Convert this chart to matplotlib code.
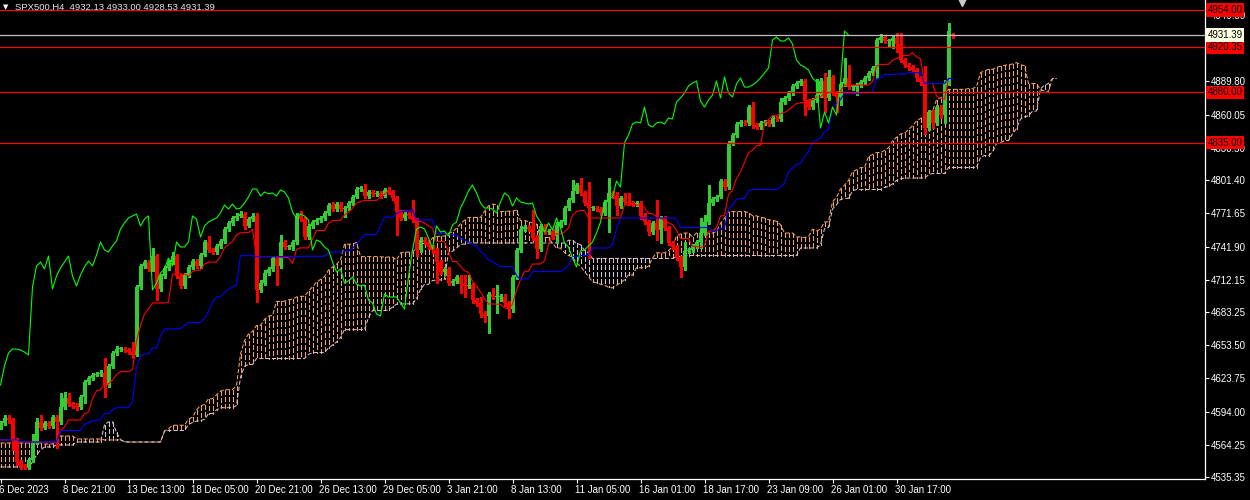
import numpy as np
import pandas as pd
import matplotlib
matplotlib.use('Agg')
import matplotlib.pyplot as plt

# SPX500 H4 bars, 6 Dec 2023 05:00 .. 1 Feb 2024
opens = [
    4580.2, 4583.8, 4588.3, 4586.5, 4568.6, 4548.8, 4545.3, 4544.4, 4550.6, 4566.8,
    4584.7, 4579.3, 4583.8, 4581.1, 4589.2, 4584.7, 4598.1, 4606.2, 4600.8, 4599.0,
    4598.1, 4607.1, 4620.5, 4624.1, 4626.8, 4627.7, 4628.6, 4617.8, 4634.9, 4646.5,
    4650.1, 4650.1, 4649.2, 4647.4, 4644.7, 4705.6, 4724.5, 4728.0, 4721.8, 4733.4,
    4703.9, 4715.5, 4722.7, 4728.0, 4733.4, 4715.5, 4706.5, 4716.4, 4723.6, 4728.9,
    4724.5, 4734.3, 4746.0, 4738.8, 4737.0, 4742.4, 4746.9, 4757.6, 4763.0, 4767.5,
    4769.3, 4771.1, 4760.3, 4766.6, 4769.3, 4703.0, 4709.2, 4718.2, 4721.8, 4731.6,
    4724.5, 4746.0, 4741.5, 4741.5, 4746.0, 4769.3, 4766.6, 4750.4, 4760.3, 4763.9,
    4765.7, 4767.5, 4772.0, 4779.1, 4775.5, 4780.0, 4775.5, 4776.4, 4780.9, 4786.3,
    4793.5, 4793.5, 4787.2, 4790.8, 4789.0, 4789.9, 4787.2, 4792.6, 4790.8, 4785.4,
    4772.8, 4767.5, 4771.1, 4769.3, 4765.7, 4738.8, 4747.8, 4746.0, 4741.5, 4738.8,
    4728.0, 4719.1, 4721.8, 4709.2, 4711.0, 4714.6, 4708.3, 4706.5, 4707.4, 4694.0,
    4691.3, 4681.5, 4679.7, 4699.4, 4696.7, 4696.7, 4696.7, 4691.3, 4685.9, 4714.6,
    4738.8, 4757.6, 4759.4, 4757.6, 4749.6, 4739.7, 4760.3, 4754.9, 4755.8, 4751.3,
    4761.2, 4763.9, 4776.4, 4783.6, 4791.7, 4797.0, 4789.9, 4780.9, 4776.4, 4776.4,
    4775.5, 4772.0, 4781.8, 4789.9, 4787.2, 4778.2, 4785.4, 4781.8, 4780.9, 4780.0,
    4780.9, 4769.3, 4763.9, 4754.9, 4763.0, 4756.7, 4767.5, 4758.5, 4745.1, 4741.5,
    4731.6, 4723.6, 4737.9, 4738.8, 4742.4, 4746.0, 4754.0, 4763.9, 4780.9, 4784.5,
    4786.3, 4800.6, 4795.2, 4834.7, 4841.8, 4851.7, 4853.5, 4852.6, 4866.9, 4850.8,
    4849.0, 4852.6, 4853.5, 4851.7, 4857.1, 4856.2, 4871.4, 4875.0, 4879.5, 4885.7,
    4888.4, 4890.2, 4872.3, 4866.9, 4873.2, 4877.7, 4890.2, 4875.0, 4893.8, 4879.5,
    4875.9, 4887.5, 4892.9, 4884.8, 4884.8, 4886.6, 4889.3, 4892.9, 4897.4, 4901.9,
    4927.0, 4929.6, 4926.1, 4926.1, 4928.8, 4923.4, 4909.0, 4904.6, 4902.8, 4900.1,
    4892.9, 4889.3, 4848.1, 4862.4, 4852.6, 4866.9, 4859.8, 4888.4, 4932.13]

highs = [
    4586.0, 4591.0, 4590.5, 4588.3, 4570.0, 4550.5, 4547.0, 4552.5, 4573.9, 4588.3,
    4591.0, 4585.5, 4585.5, 4591.0, 4591.0, 4610.7, 4611.6, 4610.7, 4602.5, 4601.5,
    4609.0, 4622.5, 4626.0, 4628.5, 4629.5, 4631.5, 4642.0, 4637.0, 4648.5, 4652.5,
    4652.0, 4652.0, 4651.0, 4656.4, 4707.0, 4726.5, 4730.0, 4730.0, 4740.6, 4735.0,
    4717.5, 4724.5, 4730.0, 4737.0, 4735.5, 4717.5, 4718.5, 4725.5, 4731.0, 4731.0,
    4736.5, 4748.0, 4751.3, 4741.0, 4744.5, 4749.0, 4759.5, 4765.0, 4769.5, 4771.5,
    4773.5, 4773.0, 4768.5, 4771.5, 4772.0, 4711.5, 4720.5, 4724.0, 4733.5, 4733.5,
    4752.2, 4748.0, 4743.5, 4748.0, 4771.5, 4774.0, 4768.5, 4762.5, 4766.0, 4767.5,
    4769.5, 4774.0, 4781.0, 4781.5, 4782.0, 4782.0, 4778.5, 4783.0, 4788.5, 4795.5,
    4796.0, 4798.0, 4793.0, 4793.0, 4792.0, 4792.0, 4794.5, 4795.5, 4792.5, 4787.5,
    4775.0, 4773.5, 4773.0, 4783.6, 4767.5, 4750.0, 4750.0, 4748.0, 4743.5, 4740.5,
    4730.0, 4724.0, 4723.5, 4713.0, 4716.5, 4716.5, 4716.0, 4716.0, 4709.5, 4696.0,
    4697.0, 4684.0, 4701.5, 4705.0, 4707.0, 4699.0, 4699.0, 4693.5, 4716.5, 4741.0,
    4760.0, 4761.5, 4761.5, 4774.6, 4752.0, 4762.5, 4762.0, 4758.0, 4758.0, 4763.5,
    4766.0, 4778.5, 4785.5, 4801.5, 4799.0, 4803.3, 4792.0, 4799.7, 4778.5, 4778.5,
    4777.5, 4784.0, 4803.3, 4792.0, 4790.8, 4787.5, 4789.9, 4789.9, 4782.5, 4783.0,
    4783.0, 4771.5, 4766.0, 4765.0, 4783.6, 4769.5, 4769.5, 4760.5, 4747.0, 4743.5,
    4733.5, 4746.0, 4741.0, 4744.5, 4748.0, 4767.5, 4770.2, 4797.0, 4786.5, 4788.5,
    4802.5, 4802.5, 4836.5, 4844.0, 4853.5, 4855.5, 4855.5, 4869.0, 4871.4, 4853.0,
    4854.5, 4855.5, 4855.5, 4859.0, 4859.0, 4875.0, 4877.0, 4881.5, 4887.5, 4890.5,
    4892.0, 4892.0, 4874.0, 4875.0, 4892.0, 4892.5, 4897.4, 4900.1, 4896.0, 4881.5,
    4889.5, 4910.8, 4904.6, 4887.0, 4888.5, 4891.5, 4895.0, 4899.5, 4904.0, 4929.0,
    4932.3, 4931.5, 4928.0, 4930.5, 4933.2, 4933.2, 4911.0, 4906.5, 4905.0, 4902.0,
    4895.0, 4903.7, 4864.5, 4864.5, 4869.0, 4869.0, 4891.0, 4942.2, 4933.00]

lows = [
    4578.5, 4582.0, 4584.0, 4559.6, 4546.5, 4543.0, 4542.5, 4543.0, 4549.0, 4565.0,
    4577.5, 4578.0, 4579.5, 4579.5, 4561.4, 4583.0, 4596.5, 4599.0, 4597.0, 4595.5,
    4596.5, 4601.7, 4619.0, 4622.5, 4625.5, 4626.0, 4607.1, 4616.0, 4633.0, 4645.0,
    4648.0, 4647.5, 4645.5, 4642.0, 4643.5, 4704.0, 4722.5, 4720.0, 4720.0, 4694.0,
    4702.0, 4714.0, 4721.0, 4726.5, 4713.5, 4704.5, 4705.0, 4715.0, 4722.0, 4722.5,
    4723.0, 4733.0, 4737.0, 4735.0, 4735.5, 4741.0, 4745.5, 4756.0, 4761.5, 4766.0,
    4768.0, 4758.0, 4759.0, 4765.0, 4692.2, 4701.0, 4707.5, 4716.5, 4720.0, 4707.4,
    4723.0, 4739.5, 4739.5, 4738.5, 4744.5, 4764.5, 4748.5, 4749.0, 4758.5, 4762.0,
    4764.0, 4766.0, 4770.5, 4773.5, 4774.0, 4773.5, 4768.5, 4775.0, 4779.5, 4785.0,
    4791.5, 4785.0, 4785.5, 4787.5, 4787.5, 4785.5, 4786.0, 4789.0, 4783.5, 4752.2,
    4765.5, 4766.0, 4767.5, 4763.5, 4733.4, 4737.0, 4744.0, 4739.5, 4736.5, 4709.2,
    4717.0, 4716.0, 4707.0, 4707.5, 4709.5, 4700.0, 4697.0, 4704.5, 4691.5, 4689.0,
    4679.0, 4674.3, 4664.4, 4694.5, 4682.4, 4693.0, 4689.0, 4677.9, 4683.5, 4712.5,
    4737.0, 4756.0, 4755.5, 4747.5, 4731.6, 4738.0, 4753.0, 4753.0, 4749.0, 4745.0,
    4759.5, 4762.0, 4774.5, 4782.0, 4790.0, 4788.0, 4779.0, 4731.6, 4774.5, 4773.5,
    4770.0, 4770.5, 4754.9, 4785.5, 4770.2, 4776.5, 4780.0, 4779.0, 4778.5, 4778.5,
    4767.0, 4762.0, 4752.5, 4753.0, 4747.8, 4745.1, 4756.5, 4743.0, 4739.5, 4729.5,
    4714.6, 4720.9, 4736.0, 4737.0, 4740.5, 4740.6, 4752.5, 4762.0, 4779.0, 4783.0,
    4785.0, 4793.0, 4793.5, 4833.0, 4840.0, 4850.0, 4850.5, 4851.0, 4848.1, 4847.0,
    4847.0, 4851.0, 4849.5, 4850.0, 4854.5, 4854.5, 4869.5, 4873.5, 4878.0, 4884.0,
    4886.5, 4859.8, 4865.0, 4865.5, 4871.5, 4876.0, 4862.4, 4873.0, 4877.5, 4862.4,
    4868.7, 4885.5, 4883.0, 4882.5, 4878.0, 4885.0, 4887.5, 4891.0, 4896.0, 4892.9,
    4925.5, 4924.5, 4921.0, 4919.8, 4916.0, 4907.0, 4902.5, 4900.5, 4898.0, 4890.5,
    4887.0, 4842.7, 4846.0, 4848.1, 4850.8, 4857.5, 4852.6, 4886.5, 4928.53]

closes = [
    4583.8, 4588.3, 4586.5, 4568.6, 4548.8, 4545.3, 4544.4, 4550.6, 4566.8, 4584.7,
    4579.3, 4583.8, 4581.1, 4589.2, 4584.7, 4598.1, 4606.2, 4600.8, 4599.0, 4598.1,
    4607.1, 4620.5, 4624.1, 4626.8, 4627.7, 4628.6, 4617.8, 4634.9, 4646.5, 4650.1,
    4650.1, 4649.2, 4647.4, 4644.7, 4705.6, 4724.5, 4728.0, 4721.8, 4733.4, 4703.9,
    4715.5, 4722.7, 4728.0, 4733.4, 4715.5, 4706.5, 4716.4, 4723.6, 4728.9, 4724.5,
    4734.3, 4746.0, 4738.8, 4737.0, 4742.4, 4746.9, 4757.6, 4763.0, 4767.5, 4769.3,
    4771.1, 4760.3, 4766.6, 4769.3, 4703.0, 4709.2, 4718.2, 4721.8, 4731.6, 4724.5,
    4746.0, 4741.5, 4741.5, 4746.0, 4769.3, 4766.6, 4750.4, 4760.3, 4763.9, 4765.7,
    4767.5, 4772.0, 4779.1, 4775.5, 4780.0, 4775.5, 4776.4, 4780.9, 4786.3, 4793.5,
    4793.5, 4787.2, 4790.8, 4789.0, 4789.9, 4787.2, 4792.6, 4790.8, 4785.4, 4772.8,
    4767.5, 4771.1, 4769.3, 4765.7, 4738.8, 4747.8, 4746.0, 4741.5, 4738.8, 4728.0,
    4719.1, 4721.8, 4709.2, 4711.0, 4714.6, 4708.3, 4706.5, 4707.4, 4694.0, 4691.3,
    4681.5, 4679.7, 4699.4, 4696.7, 4696.7, 4696.7, 4691.3, 4685.9, 4714.6, 4738.8,
    4757.6, 4759.4, 4757.6, 4749.6, 4739.7, 4760.3, 4754.9, 4755.8, 4751.3, 4761.2,
    4763.9, 4776.4, 4783.6, 4791.7, 4797.0, 4789.9, 4780.9, 4776.4, 4776.4, 4775.5,
    4772.0, 4781.8, 4789.9, 4787.2, 4778.2, 4785.4, 4781.8, 4780.9, 4780.0, 4780.9,
    4769.3, 4763.9, 4754.9, 4763.0, 4756.7, 4767.5, 4758.5, 4745.1, 4741.5, 4731.6,
    4723.6, 4737.9, 4738.8, 4742.4, 4746.0, 4754.0, 4763.9, 4780.9, 4784.5, 4786.3,
    4800.6, 4795.2, 4834.7, 4841.8, 4851.7, 4853.5, 4852.6, 4866.9, 4850.8, 4849.0,
    4852.6, 4853.5, 4851.7, 4857.1, 4856.2, 4871.4, 4875.0, 4879.5, 4885.7, 4888.4,
    4890.2, 4872.3, 4866.9, 4873.2, 4877.7, 4890.2, 4875.0, 4893.8, 4879.5, 4875.9,
    4887.5, 4892.9, 4884.8, 4884.8, 4886.6, 4889.3, 4892.9, 4897.4, 4901.9, 4927.0,
    4929.6, 4926.1, 4926.1, 4928.8, 4923.4, 4909.0, 4904.6, 4902.8, 4900.1, 4892.9,
    4889.3, 4848.1, 4862.4, 4852.6, 4866.9, 4859.8, 4888.4, 4935.0, 4931.39]

# indicator values before the data window
tenkan_head = [4568.6, 4568.6, 4568.6, 4568.6]
kijun_head = [4568.6, 4568.6, 4568.6, 4568.6]
span_a_head = [4565.9, 4565.9, 4565.9, 4565.9, 4565.9, 4565.9, 4565.9, 4565.9, 4565.9, 4565.9,
               4565.9, 4565.0, 4565.0, 4565.0, 4567.7, 4572.1, 4572.1, 4572.1, 4572.1, 4569.5,
               4569.5, 4569.5, 4569.5, 4569.5, 4569.5, 4569.5]
span_b_head = [4544.4, 4544.4, 4544.4, 4544.4, 4544.4, 4544.4, 4544.4, 4544.4, 4548.8, 4555.1,
               4559.6, 4562.3, 4562.3, 4562.3, 4564.1, 4564.1, 4564.1, 4564.1, 4564.1, 4566.8,
               4566.8, 4566.8, 4566.8, 4566.8, 4566.8, 4566.8]

time_labels = ['6 Dec 2023', '8 Dec 21:00', '13 Dec 13:00', '18 Dec 05:00', '20 Dec 21:00',
               '26 Dec 13:00', '29 Dec 05:00', '3 Jan 21:00', '8 Jan 13:00', '11 Jan 05:00',
               '16 Jan 01:00', '18 Jan 17:00', '23 Jan 09:00', '26 Jan 01:00', '30 Jan 17:00']
time_label_bars = [0, 16, 32, 48, 64, 80, 96, 112, 128, 144, 160, 176, 192, 208, 224]

# 4919.55 sits fully under the 4920.35 label, so it is left out
price_ticks = [4949.30, 4889.80, 4860.05, 4830.30, 4801.40, 4771.65, 4741.90,
               4712.15, 4683.25, 4653.50, 4623.75, 4594.00, 4564.25, 4535.35]

levels = [4954.00, 4920.35, 4880.00, 4835.00]
bid = 4931.39

SANDY = '#F4A460'
THISTLE = '#D8BFD8'
BULL = '#32CD32'
BEAR = '#FF0000'
FONT = 'Liberation Sans'

plt.rcParams['lines.dashed_pattern'] = [4.0, 2.0]

o = np.array(opens)
h = np.array(highs)
l = np.array(lows)
c = np.array(closes)
x = np.arange(len(c))

H = pd.Series(h)
L = pd.Series(l)
tenkan = (H.rolling(9, min_periods=1).max() + L.rolling(9, min_periods=1).min()) / 2
kijun = (H.rolling(26, min_periods=1).max() + L.rolling(26, min_periods=1).min()) / 2
tenkan.iloc[:4] = tenkan_head
kijun.iloc[:4] = kijun_head
span_b_calc = (H.rolling(52, min_periods=1).max() + L.rolling(52, min_periods=1).min()) / 2
span_a = np.concatenate([np.array(span_a_head), ((tenkan + kijun) / 2).to_numpy()])
span_b = np.concatenate([np.array(span_b_head), span_b_calc.to_numpy()])
span_x = np.arange(len(span_a))

fig = plt.figure(figsize=(12.5, 5), dpi=100, facecolor='black')
ax = fig.add_axes([0, 21 / 500, 1205 / 1250, 479 / 500], facecolor='black')
ax.set_xlim(-0.125, 301.125)
ax.set_ylim(4533.6, 4962.8)

# kumo: dashed vertical hatch between the spans, one column per bar
up = span_a >= span_b
for i in span_x:
    lo_v, hi_v = min(span_a[i], span_b[i]), max(span_a[i], span_b[i])
    col = SANDY if up[i] else THISTLE
    ax.plot([i, i], [hi_v, lo_v], color=col, lw=0.75, ls='--',
            antialiased=False, zorder=1)
ax.plot(span_x, span_a, color=SANDY, lw=0.75, ls='--', zorder=1)
ax.plot(span_x, span_b, color=THISTLE, lw=0.75, ls='--', zorder=1)

# candles
bull = c >= o
colors = np.where(bull, BULL, BEAR)
ax.vlines(x, l, h, colors=colors, linewidth=0.8, antialiased=False, zorder=2)
body_lo = np.minimum(o, c)
body_h = np.maximum(np.abs(c - o), 0.9)
ax.bar(x, body_h, bottom=body_lo, width=0.75, color=colors, linewidth=0,
       antialiased=False, zorder=2)

# tenkan / kijun / chikou
ax.plot(x, tenkan, color='#FF0000', lw=0.8, zorder=3)
ax.plot(x, kijun, color='#0000FF', lw=0.8, zorder=3)
ax.plot(x[26:] - 26, c[26:], color='#00FF00', lw=0.8, zorder=3)

# horizontal levels
for lv in levels:
    ax.axhline(lv, color='#FF0000', lw=0.9, zorder=4)
ax.axhline(bid, color='#C0C0C0', lw=0.9, zorder=4)

# axes styling
for side in ['left', 'top']:
    ax.spines[side].set_visible(False)
for side in ['right', 'bottom']:
    ax.spines[side].set_color('white')
    ax.spines[side].set_linewidth(0.9)

ax.yaxis.tick_right()
ax.set_yticks(price_ticks)
ax.set_yticklabels(['%.2f' % t for t in price_ticks])
ax.tick_params(axis='y', colors='white', labelcolor='white', length=3, width=0.8,
               pad=1.5, labelsize=7)
for lab in ax.get_yticklabels():
    lab.set_fontfamily(FONT)

ax.set_xticks(time_label_bars)
ax.tick_params(axis='x', colors='white', length=3, width=0.8, labelbottom=False)
for pos, txt in zip(time_label_bars, time_labels):
    ax.text(pos - 0.35, -0.023, txt, transform=ax.get_xaxis_transform(), ha='left',
            va='center', color='white', fontsize=7, family=FONT, clip_on=False)

# price labels on the scale
ytr = ax.get_yaxis_transform()
for lv in levels:
    ax.text(1.002, lv, '%.2f' % lv, transform=ytr, ha='left', va='center', fontsize=7,
            family=FONT, color='black', zorder=10, clip_on=False,
            bbox=dict(boxstyle='square,pad=0.18', fc='#FF0000', ec='none'))
ax.text(1.002, bid, '%.2f' % bid, transform=ytr, ha='left', va='center', fontsize=7,
        family=FONT, color='black', zorder=10, clip_on=False,
        bbox=dict(boxstyle='square,pad=0.18', fc='#FFFFE6', ec='none'))

# chart shift marker
ax.plot([240.4], [4962.0], marker='v', markersize=7, color='#C8C8C8', clip_on=False,
        zorder=6)

fig.text(3 / 1250, 1 - 7 / 500, '\u25bc', color='white', fontsize=5, va='center',
         ha='left', family='DejaVu Sans')
fig.text(15 / 1250, 1 - 7 / 500, 'SPX500,H4  4932.13 4933.00 4928.53 4931.39',
         color='#E6E6E6', fontsize=6.8, va='center', ha='left', family=FONT)

fig.savefig('out.png', dpi=100, facecolor='black')
